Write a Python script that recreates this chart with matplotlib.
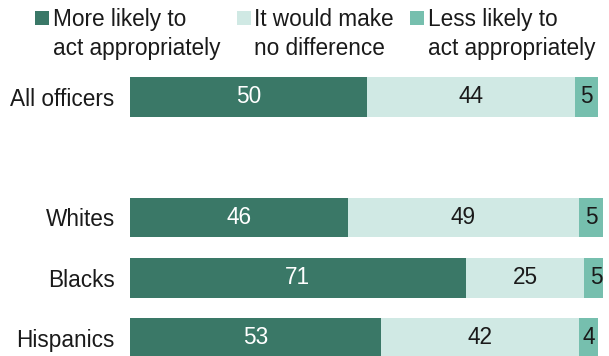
import numpy as np
import matplotlib
matplotlib.use("Agg")
import matplotlib.pyplot as plt
from matplotlib.patches import Rectangle

plt.rcParams['font.family'] = ['Liberation Sans', 'DejaVu Sans']

# ----- data -----
groups = ['All officers', 'Whites', 'Blacks', 'Hispanics']
group_pos = [0, 2, 3, 4]   # blank slot between total and subgroups
series = ['More likely to\nact appropriately', 'It would make\nno difference', 'Less likely to\nact appropriately']
more_likely = [50, 46, 71, 53]
no_difference = [44, 49, 25, 42]
less_likely = [5, 5, 5, 4]

colors = ['#3a7867', '#d0e9e4', '#76bfae']
label_colors = ['white', '#1a1a1a', '#1a1a1a']
fs = 16.3

W, H = 609, 356
fig = plt.figure(figsize=(W / 100, H / 100), dpi=100)
ax = fig.add_axes([130 / W, 0, 473 / W, 296 / H])

left = np.zeros(len(groups))
for vals, col, lcol in zip([more_likely, no_difference, less_likely], colors, label_colors):
    vals = np.array(vals)
    ax.barh(group_pos, vals, left=left, height=0.66, color=col, edgecolor='none')
    for y, l, v in zip(group_pos, left, vals):
        ax.text(l + v / 2, y, str(v), ha='center', va='center', color=lcol, fontsize=fs)
    left += vals

ax.set_xlim(0, 100)
ax.set_ylim(4.3, -0.614)
ax.set_yticks(group_pos)
ax.set_yticklabels(groups, fontsize=fs, color='#1a1a1a')
ax.tick_params(axis='y', length=0, pad=11)
ax.set_xticks([])
for s in ax.spines.values():
    s.set_visible(False)

# legend, drawn by hand to match the layout
marker_x = [35, 237, 410]
text_x = [53, 254, 428]
for mx, tx, col, name in zip(marker_x, text_x, colors, series):
    fig.add_artist(Rectangle((mx / W, 1 - 24.5 / H), 13.5 / W, 13.5 / H,
                             transform=fig.transFigure, color=col, lw=0))
    fig.text(tx / W, 1 - 34 / H, name, ha='left', va='center',
             fontsize=fs, color='#1a1a1a', linespacing=1.35)

fig.savefig('out.png', dpi=100)
